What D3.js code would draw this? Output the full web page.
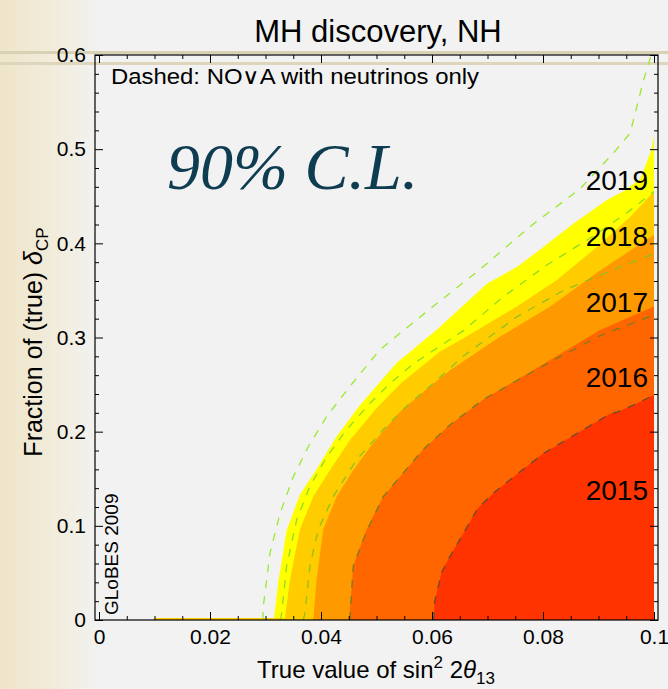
<!DOCTYPE html>
<html>
<head>
<meta charset="utf-8">
<script src="https://cdn.jsdelivr.net/npm/d3@7"></script>
<style>
  html, body { margin: 0; padding: 0; background: #f2f2f2; }
  svg { display: block; font-family: "Liberation Sans", Arial, Helvetica, sans-serif; }
</style>
</head>
<body>
<svg width="668" height="689"></svg>
<script>
// ---- data (x = sin^2 2theta13, y = fraction of delta_CP) ----
const years = ["2019", "2018", "2017", "2016", "2015"];
const yearColors = ["#ffff00", "#ffcc00", "#ff9900", "#ff6600", "#ff3300"];
const yearLabelY = [0.467, 0.407, 0.337, 0.258, 0.137];

const edge2019 = [[0.0315,0],[0.0323,0.04],[0.0338,0.095],[0.0362,0.133],[0.0392,0.16],[0.0428,0.195],
  [0.047,0.228],[0.0536,0.273],[0.0608,0.308],[0.0699,0.357],[0.0753,0.375],[0.0807,0.399],
  [0.0855,0.421],[0.0915,0.446],[0.0944,0.455],[0.0975,0.468],[0.0996,0.50],[0.1,0.515]];
const edge2018 = [[0.01,0],[0.01,0.002],[0.0335,0.002],[0.0344,0.042],[0.0362,0.096],[0.0386,0.131],
  [0.0416,0.159],[0.0452,0.191],[0.05,0.225],[0.0545,0.252],[0.0614,0.285],[0.0656,0.299],
  [0.0753,0.333],[0.0825,0.361],[0.0897,0.396],[0.0957,0.428],[0.1,0.455]];
const edge2017 = [[0.0386,0],[0.0392,0.042],[0.0404,0.096],[0.0428,0.131],[0.0458,0.159],[0.0494,0.188],
  [0.0542,0.221],[0.0596,0.248],[0.0632,0.265],[0.0723,0.301],[0.0813,0.333],[0.09,0.37],[0.1,0.409]];
const edge2016 = [[0.0451,0],[0.0458,0.057],[0.0482,0.096],[0.0512,0.131],[0.0548,0.156],[0.0584,0.181],
  [0.0632,0.207],[0.0692,0.234],[0.0813,0.276],[0.0903,0.308],[0.1,0.333]];
const edge2015 = [[0.0603,0],[0.0605,0.02],[0.0617,0.05],[0.0629,0.064],[0.0683,0.119],[0.0711,0.135],
  [0.0747,0.152],[0.0801,0.177],[0.0861,0.198],[0.0921,0.219],[0.0935,0.221],[0.0962,0.228],[0.1,0.239]];
const edges = [edge2019, edge2018, edge2017, edge2016, edge2015];

// dashed: NOvA with neutrinos only
const nova1 = [[0.0295,0],[0.0296,0.014],[0.0308,0.071],[0.0326,0.113],[0.035,0.152],[0.0377,0.184],
  [0.041,0.216],[0.0452,0.248],[0.0506,0.287],[0.0554,0.31],[0.0602,0.333],[0.0686,0.372],
  [0.0777,0.418],[0.0867,0.458],[0.0927,0.496],[0.0957,0.517],[0.0969,0.545],[0.0981,0.573],[0.0995,0.6]];
const nova2 = [[0.0327,0],[0.0329,0.007],[0.0338,0.057],[0.0356,0.106],[0.038,0.142],[0.041,0.173],
  [0.0446,0.202],[0.0488,0.23],[0.0524,0.251],[0.0566,0.272],[0.0656,0.307],[0.0728,0.343],
  [0.0807,0.377],[0.0897,0.41],[0.0957,0.435],[0.1,0.455]];
const nova3 = [[0.0368,0],[0.0371,0.007],[0.038,0.057],[0.0395,0.096],[0.0422,0.131],[0.0464,0.17],
  [0.0512,0.202],[0.0554,0.227],[0.0596,0.248],[0.0656,0.28],[0.0753,0.322],[0.0837,0.35],
  [0.0927,0.372],[0.1,0.389]];
const nova4 = [[0.0452,0],[0.0458,0.057],[0.0482,0.094],[0.0512,0.131],[0.0548,0.156],[0.0584,0.181],
  [0.0632,0.207],[0.0692,0.234],[0.0813,0.274],[0.0903,0.302],[0.1,0.324]];
const nova5 = [[0.0603,0],[0.0605,0.02],[0.0617,0.05],[0.0629,0.064],[0.0683,0.119],[0.0711,0.135],
  [0.0747,0.152],[0.0801,0.177],[0.0861,0.198],[0.0921,0.219],[0.0935,0.221],[0.0962,0.228],[0.1,0.239]];
const novaLines = [nova1, nova2, nova3, nova4, nova5];
const novaColors = ["#9be830", "#8fdc22", "#8fbf22", "#7c7a22", "#6a4a30"];

const xTicks = [0, 0.02, 0.04, 0.06, 0.08, 0.1];
const xTickLabels = ["0", "0.02", "0.04", "0.06", "0.08", "0.1"];
const yTicks = [0, 0.1, 0.2, 0.3, 0.4, 0.5, 0.6];
const yTickLabels = ["0", "0.1", "0.2", "0.3", "0.4", "0.5", "0.6"];

// ---- layout ----
const svg = d3.select('svg');
const frameL = 95, frameR = 658, frameT = 55, frameB = 620;

const x = d3.scaleLinear().domain([0, 0.1]).range([99, 654]);
const y = d3.scaleLinear().domain([0, 0.6]).range([620, 55]);

// paper-ish background
const defs = svg.append('defs');
const grad = defs.append('linearGradient').attr('id', 'paper').attr('x1', 0).attr('x2', 1);
grad.append('stop').attr('offset', '0%').attr('stop-color', '#efe5c9');
grad.append('stop').attr('offset', '55%').attr('stop-color', '#f1ecdc');
grad.append('stop').attr('offset', '100%').attr('stop-color', '#f2f2f2');
svg.append('rect').attr('width', 668).attr('height', 689).attr('fill', '#f2f2f2');
svg.append('rect').attr('width', 100).attr('height', 689).attr('fill', 'url(#paper)');

defs.append('clipPath').attr('id', 'clip')
  .append('rect').attr('x', frameL).attr('y', frameT).attr('width', frameR - frameL).attr('height', frameB - frameT);

svg.append('rect').attr('x', 0).attr('y', 51).attr('width', 668).attr('height', 3).attr('fill', '#d9d1b4');
svg.append('rect').attr('x', 0).attr('y', 62).attr('width', 668).attr('height', 3).attr('fill', '#ddd6bc');

const plot = svg.append('g').attr('clip-path', 'url(#clip)');

const line = d3.line().x(d => x(d[0])).y(d => y(d[1]));

// filled regions, outermost year first
plot.selectAll('path.region')
  .data(edges)
  .enter()
  .append('path')
  .attr('class', 'region')
  .attr('d', d => line(d.concat([[0.1, 0]])) + 'Z')
  .attr('fill', (d, i) => yearColors[i]);

// dashed contours
plot.selectAll('path.nova')
  .data(novaLines)
  .enter()
  .append('path')
  .attr('class', 'nova')
  .attr('d', line)
  .attr('fill', 'none')
  .attr('stroke', (d, i) => novaColors[i])
  .attr('stroke-width', 1.3)
  .attr('stroke-dasharray', '8,8');

// year labels
svg.selectAll('text.year')
  .data(years)
  .enter()
  .append('text')
  .attr('class', 'year')
  .attr('x', 648)
  .attr('y', (d, i) => y(yearLabelY[i]))
  .attr('text-anchor', 'end')
  .attr('dominant-baseline', 'central')
  .attr('font-size', 28)
  .attr('fill', '#000')
  .text(d => d);

// axes with inward ticks
const xMinor = d3.range(0, 0.1001, 0.005).filter(v => Math.abs(v / 0.02 - Math.round(v / 0.02)) > 1e-6);
const yMinor = d3.range(0, 0.6001, 0.02).filter(v => Math.abs(v / 0.1 - Math.round(v / 0.1)) > 1e-6);

function addAxis(axisFn, scale, values, size, pos, labels) {
  const ax = axisFn(scale).tickValues(values).tickSize(size)
    .tickFormat((d, i) => labels ? labels[i] : '').tickPadding(9);
  const g = svg.append('g').attr('transform', pos).call(ax);
  g.select('.domain').remove();
  g.selectAll('line').attr('stroke', '#000').attr('stroke-width', 1);
  g.selectAll('text').attr('font-size', 21).attr('fill', '#000')
    .style('font-family', '"Liberation Sans", Arial, sans-serif');
  return g;
}
addAxis(d3.axisBottom, x, xTicks, -8, `translate(0,${frameB})`, xTickLabels);
addAxis(d3.axisBottom, x, xMinor, -4, `translate(0,${frameB})`, null);
addAxis(d3.axisTop, x, xTicks, -8, `translate(0,${frameT})`, null);
addAxis(d3.axisTop, x, xMinor, -4, `translate(0,${frameT})`, null);
addAxis(d3.axisLeft, y, yTicks, -8, `translate(${frameL},0)`, yTickLabels);
addAxis(d3.axisLeft, y, yMinor, -4, `translate(${frameL},0)`, null);
addAxis(d3.axisRight, y, yTicks, -8, `translate(${frameR},0)`, null);
addAxis(d3.axisRight, y, yMinor, -4, `translate(${frameR},0)`, null);

svg.append('rect').attr('x', frameL).attr('y', frameT).attr('width', frameR - frameL).attr('height', frameB - frameT)
  .attr('fill', 'none').attr('stroke', '#000').attr('stroke-width', 1.2);

// title and annotations
svg.append('text').attr('x', 378).attr('y', 42).attr('text-anchor', 'middle')
  .attr('font-size', 31).text('MH discovery, NH');

svg.append('text').attr('x', 111).attr('y', 84).attr('font-size', 22)
  .attr('textLength', 368).attr('lengthAdjust', 'spacingAndGlyphs')
  .text('Dashed: NO\u2228A with neutrinos only');

svg.append('text').attr('x', 167).attr('y', 189)
  .style('font-family', '"Liberation Serif", "DejaVu Serif", serif')
  .attr('font-style', 'italic').attr('font-size', 66).attr('fill', '#0e3c50')
  .text('90% C.L.');

svg.append('text').attr('transform', 'translate(118,615) rotate(-90)')
  .attr('font-size', 19).text('GLoBES 2009');

// axis titles
const xt = svg.append('text').attr('x', 376).attr('y', 678).attr('text-anchor', 'middle').attr('font-size', 24);
xt.append('tspan').text('True value of sin');
xt.append('tspan').attr('font-size', 17).attr('dy', -10).text('2');
xt.append('tspan').attr('dy', 10).text('\u00a02');
xt.append('tspan').attr('font-style', 'italic').text('\u03b8');
xt.append('tspan').attr('font-size', 17).attr('dy', 6).text('13');

const yt = svg.append('text').attr('transform', 'translate(42,342) rotate(-90)')
  .attr('text-anchor', 'middle').attr('font-size', 25);
yt.append('tspan').text('Fraction of (true) ');
yt.append('tspan').attr('font-style', 'italic').text('\u03b4');
yt.append('tspan').attr('font-size', 17).attr('dy', 6).text('CP');
</script>
</body>
</html>
